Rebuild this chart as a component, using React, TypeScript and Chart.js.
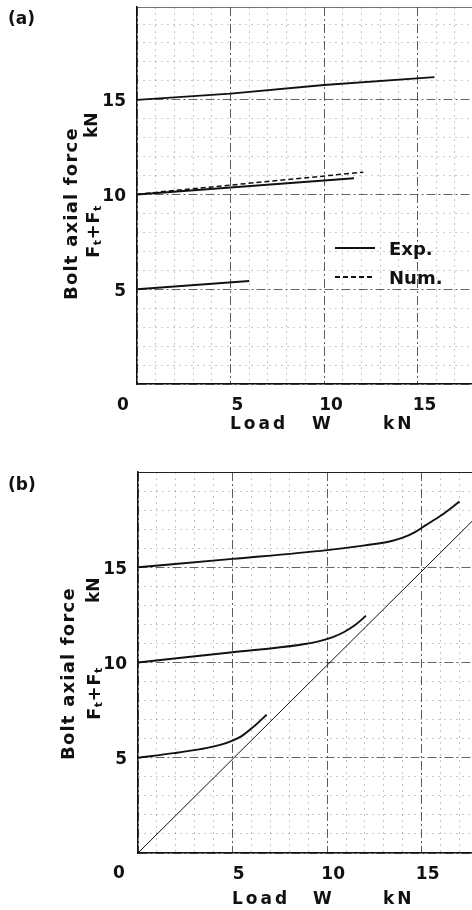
import React, { useEffect, useRef } from 'react';
import { Chart, registerables } from 'chart.js';

Chart.register(...registerables);

// ---------- data ----------
const tickValues = [0, 5, 10, 15];

// (a) experiment vs numerical
const aExp15X = [0, 5, 10, 15.9];
const aExp15Y = [15.0, 15.33, 15.78, 16.2];
const aExp10X = [0, 5, 11.6];
const aExp10Y = [10.0, 10.37, 10.86];
const aNum10X = [0, 5, 12.1];
const aNum10Y = [10.02, 10.5, 11.18];
const aExp5X = [0, 6.0];
const aExp5Y = [5.0, 5.44];

// (b)
const bTopX = [0, 5, 10, 12, 13.3, 14.0, 14.6, 15.2, 16.0, 17.0];
const bTopY = [15.0, 15.44, 15.9, 16.15, 16.35, 16.55, 16.82, 17.2, 17.7, 18.45];
const bMidX = [0, 5, 8.5, 9.6, 10.3, 10.9, 11.5, 12.05];
const bMidY = [10.0, 10.54, 10.92, 11.12, 11.33, 11.6, 11.98, 12.45];
const bLowX = [0, 1.9, 3.3, 4.3, 5.0, 5.5, 6.1, 6.8];
const bLowY = [5.0, 5.24, 5.45, 5.66, 5.9, 6.15, 6.62, 7.26];
const bDiagX = [0, 17.7];
const bDiagY = [0, 17.45];

const legendLabels = ['Exp.', 'Num.'];

// ---------- helpers ----------
const FONT = '"DejaVu Sans", "Liberation Sans", sans-serif';
const pts = (xs: number[], ys: number[]) => xs.map((x, i) => ({ x, y: ys[i] }));

type TextCfg = {
  panel: string;
  panelXY: [number, number];
  originXY: [number, number];
  xTitleY: number;
  xTitleParts: [string, number][];
  yTitle1: [number, number];
  yTitle2: [number, number];
  yUnit: [number, number];
  topColor: string;
  legend?: { x1: number; x2: number; tx: number; ys: number[] };
};

function drawRotated(ctx: CanvasRenderingContext2D, x: number, y: number, fn: () => void) {
  ctx.save();
  ctx.translate(x, y);
  ctx.rotate(-Math.PI / 2);
  fn();
  ctx.restore();
}

function makeTextPlugin(cfg: TextCfg) {
  return {
    id: 'texts',
    afterDraw(chart: any) {
      const ctx: CanvasRenderingContext2D = chart.ctx;
      const area = chart.chartArea;
      ctx.save();
      ctx.fillStyle = '#111';
      ctx.strokeStyle = cfg.topColor;
      // top frame line
      ctx.lineWidth = 1.2;
      ctx.beginPath();
      ctx.moveTo(area.left, area.top + 0.5);
      ctx.lineTo(area.right, area.top + 0.5);
      ctx.stroke();
      ctx.strokeStyle = '#111';

      // panel label
      ctx.font = `bold 17px ${FONT}`;
      ctx.textAlign = 'left';
      ctx.textBaseline = 'middle';
      ctx.fillText(cfg.panel, cfg.panelXY[0], cfg.panelXY[1]);

      // shared origin tick label
      ctx.textAlign = 'center';
      ctx.fillText(String(tickValues[0]), cfg.originXY[0], cfg.originXY[1]);
      ctx.textAlign = 'left';

      // x title
      (ctx as any).letterSpacing = '3px';
      ctx.font = `bold 17px ${FONT}`;
      for (const [t, x] of cfg.xTitleParts) ctx.fillText(t, x, cfg.xTitleY);
      (ctx as any).letterSpacing = '1.2px';

      // y title line 1
      drawRotated(ctx, cfg.yTitle1[0], cfg.yTitle1[1], () => {
        ctx.font = `bold 18px ${FONT}`;
        ctx.textAlign = 'left';
        ctx.textBaseline = 'middle';
        ctx.fillText('Bolt axial force', 0, 0);
      });
      (ctx as any).letterSpacing = '0px';
      // y title line 2 : F_t + F_t
      drawRotated(ctx, cfg.yTitle2[0], cfg.yTitle2[1], () => {
        ctx.textAlign = 'left';
        ctx.textBaseline = 'middle';
        let px = 0;
        const big = `bold 18px ${FONT}`;
        const small = `bold 11px ${FONT}`;
        const parts: [string, string, number][] = [
          ['F', big, 0], ['t', small, 4], ['+', big, 0], ['F', big, 0], ['t', small, 4],
        ];
        for (const [t, f, dy] of parts) {
          ctx.font = f;
          ctx.fillText(t, px, dy);
          px += ctx.measureText(t).width + 0.5;
        }
      });
      drawRotated(ctx, cfg.yUnit[0], cfg.yUnit[1], () => {
        ctx.font = `bold 17px ${FONT}`;
        ctx.textAlign = 'left';
        ctx.textBaseline = 'middle';
        ctx.fillText('kN', 0, 0);
      });

      // legend
      if (cfg.legend) {
        const L = cfg.legend;
        const ds = chart.data.datasets;
        legendLabels.forEach((lab, i) => {
          const d = ds.find((q: any) => q.label === lab);
          const y = L.ys[i];
          ctx.save();
          ctx.lineWidth = 1.8;
          ctx.setLineDash(d && d.borderDash ? d.borderDash : []);
          ctx.beginPath();
          ctx.moveTo(L.x1, y);
          ctx.lineTo(L.x2, y);
          ctx.stroke();
          ctx.restore();
          ctx.font = `bold 18px ${FONT}`;
          ctx.textAlign = 'left';
          ctx.textBaseline = 'middle';
          ctx.fillText(lab, L.tx, y + 2);
        });
      }
      ctx.restore();
    },
  };
}

type ChartCfg = {
  datasets: any[];
  xMax: number;
  yMax: number;
  padTop: number;
  yWidth: number;
  xHeight: number;
  xLabelOffset: number;
  texts: TextCfg;
};

function buildChart(canvas: HTMLCanvasElement, c: ChartCfg) {
  const tickFont = { family: FONT, size: 17, weight: 'bold' as const };
  const labelCb = (v: any) => (Number(v) !== 0 && tickValues.includes(Number(v)) ? String(v) : '');
  const fitX = (h: number) => (s: any) => { s.height = h; s.paddingLeft = 0; s.paddingRight = 0; };
  const fitY = (w: number) => (s: any) => { s.width = w; s.paddingTop = 0; s.paddingBottom = 0; };
  return new Chart(canvas, {
    type: 'line',
    data: { datasets: c.datasets },
    plugins: [makeTextPlugin(c.texts)],
    options: {
      animation: false,
      responsive: false,
      events: [],
      layout: { padding: { top: c.padTop, left: 0, right: 0, bottom: 0 } },
      plugins: { legend: { display: false }, tooltip: { enabled: false } },
      elements: { point: { radius: 0 } },
      scales: {
        x: {
          type: 'linear',
          position: 'bottom',
          min: 0,
          max: c.xMax,
          afterFit: fitX(c.xHeight),
          ticks: {
            stepSize: 5,
            includeBounds: false,
            autoSkip: false,
            maxRotation: 0,
            padding: 11,
            color: '#111',
            font: tickFont,
            callback: labelCb,
            labelOffset: c.xLabelOffset,
          },
          grid: { color: 'rgba(50,50,50,0.8)', lineWidth: 1, drawTicks: false },
          border: { display: true, color: '#111', width: 1.5, dash: [9, 3, 2, 3] },
        },
        xm: {
          type: 'linear',
          position: 'bottom',
          min: 0,
          max: c.xMax,
          afterFit: fitX(0),
          ticks: { stepSize: 1, display: false, includeBounds: false },
          grid: { color: (ctx: any) => (ctx.tick && ctx.tick.value % 5 === 0 ? 'rgba(0,0,0,0)' : 'rgba(0,0,0,0.22)'), lineWidth: 1, drawTicks: false },
          border: { display: false, dash: [2, 4] },
        },
        y: {
          type: 'linear',
          position: 'left',
          min: 0,
          max: c.yMax,
          afterFit: fitY(c.yWidth),
          ticks: {
            stepSize: 5,
            includeBounds: false,
            autoSkip: false,
            padding: 11,
            color: '#111',
            font: tickFont,
            labelOffset: 2,
            callback: labelCb,
          },
          grid: { color: 'rgba(50,50,50,0.75)', lineWidth: 1, drawTicks: false },
          border: { display: true, color: '#111', width: 1.5, dash: [9, 3, 2, 3] },
        },
        ym: {
          type: 'linear',
          position: 'left',
          min: 0,
          max: c.yMax,
          afterFit: fitY(0),
          ticks: { stepSize: 1, display: false, includeBounds: false },
          grid: { color: (ctx: any) => (ctx.tick && ctx.tick.value % 5 === 0 ? 'rgba(0,0,0,0)' : 'rgba(0,0,0,0.2)'), lineWidth: 1, drawTicks: false },
          border: { display: false, dash: [2, 4] },
        },
      },
    } as any,
  });
}

const lineDs = (label: string, xs: number[], ys: number[], extra: any = {}) => ({
  label,
  data: pts(xs, ys),
  borderColor: '#111',
  borderWidth: 1.9,
  fill: false,
  pointRadius: 0,
  ...extra,
});

export default function App() {
  const refA = useRef<HTMLCanvasElement>(null);
  const refB = useRef<HTMLCanvasElement>(null);

  useEffect(() => {
    const chA = buildChart(refA.current!, {
      datasets: [
        lineDs('Exp.', aExp15X, aExp15Y),
        lineDs('Exp. 10', aExp10X, aExp10Y),
        lineDs('Num.', aNum10X, aNum10Y, { borderDash: [5, 3], borderWidth: 1.5 }),
        lineDs('Exp. 5', aExp5X, aExp5Y),
      ],
      xMax: 17.91,
      yMax: 19.9,
      padTop: 7,
      yWidth: 137,
      xHeight: 71,
      xLabelOffset: 7,
      texts: {
        panel: '(a)',
        panelXY: [8, 20],
        originXY: [123, 406],
        xTitleY: 425,
        xTitleParts: [['Load', 230], ['W', 312], ['kN', 383]],
        yTitle1: [72, 300],
        yTitle2: [94, 258],
        yUnit: [93, 138],
        topColor: 'rgba(60,60,60,0.7)',
        legend: { x1: 335, x2: 375, tx: 389, ys: [248, 277] },
      },
    });
    const chB = buildChart(refB.current!, {
      datasets: [
        lineDs('Exp. 15', bTopX, bTopY, { cubicInterpolationMode: 'monotone' }),
        lineDs('Exp. 10', bMidX, bMidY, { cubicInterpolationMode: 'monotone' }),
        lineDs('Exp. 5', bLowX, bLowY, { cubicInterpolationMode: 'monotone' }),
        lineDs('W', bDiagX, bDiagY, { borderWidth: 1 }),
      ],
      xMax: 17.66,
      yMax: 20,
      padTop: 17,
      yWidth: 138,
      xHeight: 57,
      xLabelOffset: 6,
      texts: {
        panel: '(b)',
        panelXY: [8, 31],
        originXY: [119, 419],
        xTitleY: 445,
        xTitleParts: [['Load', 232], ['W', 313], ['kN', 383]],
        yTitle1: [69, 305],
        yTitle2: [95, 265],
        yUnit: [95, 148],
        topColor: '#222',
      },
    });
    return () => {
      chA.destroy();
      chB.destroy();
    };
  }, []);

  return (
    <div style={{ position: 'absolute', left: 0, top: 0, width: 472, height: 910, background: '#fff', overflow: 'hidden' }}>
      <canvas ref={refA} width={472} height={455} style={{ position: 'absolute', left: 0, top: 0, width: 472, height: 455 }} />
      <canvas ref={refB} width={472} height={455} style={{ position: 'absolute', left: 0, top: 455, width: 472, height: 455 }} />
    </div>
  );
}
